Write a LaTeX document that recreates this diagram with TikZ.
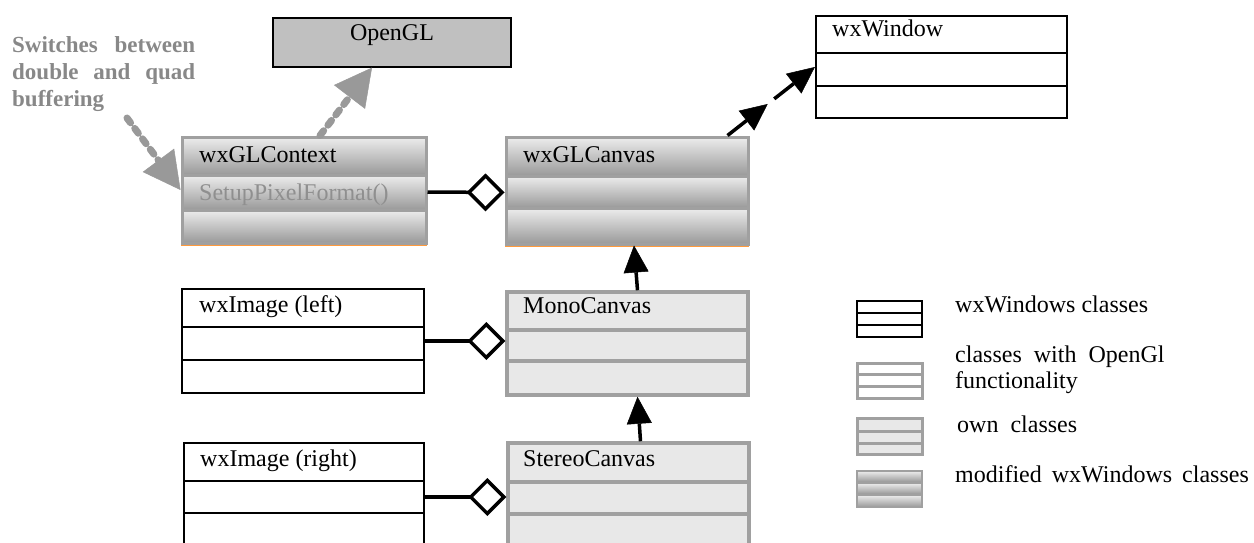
\documentclass[tikz,border=0pt]{standalone}
\usepackage{fontspec}
\setmainfont{Liberation Serif}
\usetikzlibrary{arrows.meta,calc,fit}
\definecolor{gborder}{HTML}{A0A0A0}
\definecolor{ownfill}{HTML}{E8E8E8}
\definecolor{oglfill}{HTML}{C0C0C0}
\definecolor{notegray}{HTML}{888888}
\definecolor{methgray}{HTML}{8F8F8F}
\definecolor{depgray}{HTML}{999999}
\definecolor{gradtop}{HTML}{EDEDED}
\definecolor{gradbot}{HTML}{999999}
\definecolor{orangeline}{HTML}{FF9A3C}
\begin{document}
\begin{tikzpicture}[x=1pt,y=-1pt,
  font=\fontsize{24}{28}\selectfont,
  wxframe/.style={draw=black,line width=2.2pt,fill=white,inner sep=0pt},
  wxdiv/.style={draw=black,line width=2.2pt},
  ownframe/.style={draw=gborder,line width=3.5pt,fill=ownfill,inner sep=0pt},
  owndiv/.style={draw=gborder,line width=3.5pt},
  oglframe/.style={draw=gborder,line width=3pt,fill=white,inner sep=0pt},
  modframe/.style={draw=gborder,line width=3pt,inner sep=0pt},
  moddiv/.style={draw=gborder,line width=3pt},
  band/.style={top color=gradtop,bottom color=gradbot},
  lbl/.style={anchor=base west,inner sep=0pt},
  gen/.style={line width=3.5pt,-{Triangle[length=27pt,width=25pt,line width=0.5pt]}},
  agg/.style={line width=3.5pt,-{Diamond[open,length=38pt,width=38pt]}},
  dep/.style={draw=depgray,line width=7pt,line cap=round,dash pattern=on 6pt off 7pt,
    -{Triangle[length=37pt,width=39pt,line width=0.5pt,fill=depgray]}},
]
\useasboundingbox[fill=white] (0,0) rectangle (1254,543);

% ---------- OpenGL ----------
\node[draw=black,line width=1.2pt,fill=oglfill,inner sep=0pt,fit={(273,18) (511,67)}] (ogl) {};
\node[anchor=base,inner sep=0pt] (ogltext) at (392,41) {OpenGL};

% ---------- wxWindow ----------
\node[wxframe,fit={(816,16) (1067,118)}] (win) {};
\draw[wxdiv] (816,53) -- (1067,53);
\draw[wxdiv] (816,86) -- (1067,86);
\node[lbl] (wintext) at (832,37) {wxWindow};

% ---------- wxGLContext ----------
\shade[band] (182,137) rectangle (426,175);
\shade[band] (182,175) rectangle (426,210);
\shade[band] (182,210) rectangle (426,243);
\draw[orangeline,line width=1.2pt] (181,245.5) -- (427,245.5);
\node[modframe,fit={(182,137) (426,243)}] (ctx) {};
\draw[moddiv] (182,175) -- (426,175);
\draw[moddiv] (182,210) -- (426,210);
\node[lbl] (ctxtext) at (199,162) {wxGLContext};
\node[lbl,text=methgray] (ctxmeth) at (199,200) {SetupPixelFormat()};

% ---------- wxGLCanvas ----------
\shade[band] (506,137) rectangle (748,176);
\shade[band] (506,176) rectangle (748,208);
\shade[band] (506,208) rectangle (748,244);
\draw[orangeline,line width=1.2pt] (505,246) -- (749,246);
\node[modframe,fit={(506,137) (748,244)}] (canvas) {};
\draw[moddiv] (506,176) -- (748,176);
\draw[moddiv] (506,208) -- (748,208);
\node[lbl] (canvastext) at (523,162) {wxGLCanvas};

% ---------- wxImage (left) ----------
\node[wxframe,fit={(182,289) (424,393)}] (imgl) {};
\draw[wxdiv] (182,327) -- (424,327);
\draw[wxdiv] (182,360) -- (424,360);
\node[lbl] (imgltext) at (199,312) {wxImage (left)};

% ---------- MonoCanvas ----------
\node[ownframe,fit={(507,292) (748,395)}] (mono) {};
\draw[owndiv] (507,330) -- (748,330);
\draw[owndiv] (507,361) -- (748,361);
\node[lbl] (monotext) at (523,313) {MonoCanvas};

% ---------- wxImage (right) ----------
\node[wxframe,fit={(184,443) (424,552)}] (imgr) {};
\draw[wxdiv] (184,481) -- (424,481);
\draw[wxdiv] (184,513) -- (424,513);
\node[lbl] (imgrtext) at (200,466) {wxImage (right)};

% ---------- StereoCanvas ----------
\node[ownframe,fit={(508,443) (749,552)}] (stereo) {};
\draw[owndiv] (508,482) -- (749,482);
\draw[owndiv] (508,514) -- (749,514);
\node[lbl] (stereotext) at (523,466) {StereoCanvas};

% ---------- note ----------
\node[anchor=north west,inner sep=0pt,text width=183pt,align=justify,text=notegray,
  font=\fontsize{23}{27}\selectfont\bfseries] (note) at (12,36)
  {Switches between double and quad buffering};

% ---------- connectors ----------
\draw[agg] ([yshift=-2pt]ctx.east) -- ([yshift=-2pt]canvas.west);
\draw[agg] (imgl.east) -- (mono.west |- imgl.east);
\draw[agg] (imgr.east |- 0,497) -- (stereo.west |- 0,497);
\draw[gen] ([xshift=10pt]mono.north) -- ([xshift=7pt]canvas.south);
\draw[gen] ([xshift=12pt]stereo.north) -- ([xshift=10pt]mono.south);
\coordinate (gs) at ([xshift=-22pt]canvas.north east);
\coordinate (gm1) at ($(gs)!0.46!(win.west)$);
\coordinate (gm2) at ($(gs)!0.535!(win.west)$);
\draw[gen] (gs) -- (gm1);
\draw[gen] (gm2) -- (win.west);
\draw[dep] ([xshift=16pt]ctx.north) -- ([xshift=-20pt]ogl.south);
\coordinate (ns) at (127,118);
\draw[dep] (ns) -- (ctx.west);

% ---------- legend ----------
\node[wxframe,fit={(857,301) (922,337)}] (leg1) {};
\draw[wxdiv] (857,313) -- (922,313);
\draw[wxdiv] (857,325) -- (922,325);
\node[lbl] (leg1text) at (955,312) {wxWindows classes};

\node[oglframe,fit={(857,363) (922,398)}] (leg2) {};
\draw[moddiv] (857,374) -- (922,374);
\draw[moddiv] (857,386) -- (922,386);
\node[anchor=north west,inner sep=0pt,align=left,font=\fontsize{24}{26}\selectfont] (leg2text) at (955,345.5)
  {classes\ \ with\ \ OpenGl\\functionality};

\node[ownframe,line width=3pt,fit={(857,418) (922,454)}] (leg3) {};
\draw[moddiv] (857,431) -- (922,431);
\draw[moddiv] (857,443) -- (922,443);
\node[lbl] (leg3text) at (957,432) {own\ \ classes};

\shade[band] (857,471) rectangle (922,482);
\shade[band] (857,483) rectangle (922,494);
\shade[band] (857,495) rectangle (922,507);
\node[draw=gborder,line width=2pt,inner sep=0pt,fit={(857,471) (922,482)}] (leg4a) {};
\node[draw=gborder,line width=2pt,inner sep=0pt,fit={(857,483) (922,494)}] (leg4b) {};
\node[draw=gborder,line width=2pt,inner sep=0pt,fit={(857,495) (922,507)}] (leg4c) {};
\node[lbl] (leg4text) at (955,482) {modified\hspace{10pt}wxWindows\hspace{10pt}classes};
\end{tikzpicture}
\end{document}
